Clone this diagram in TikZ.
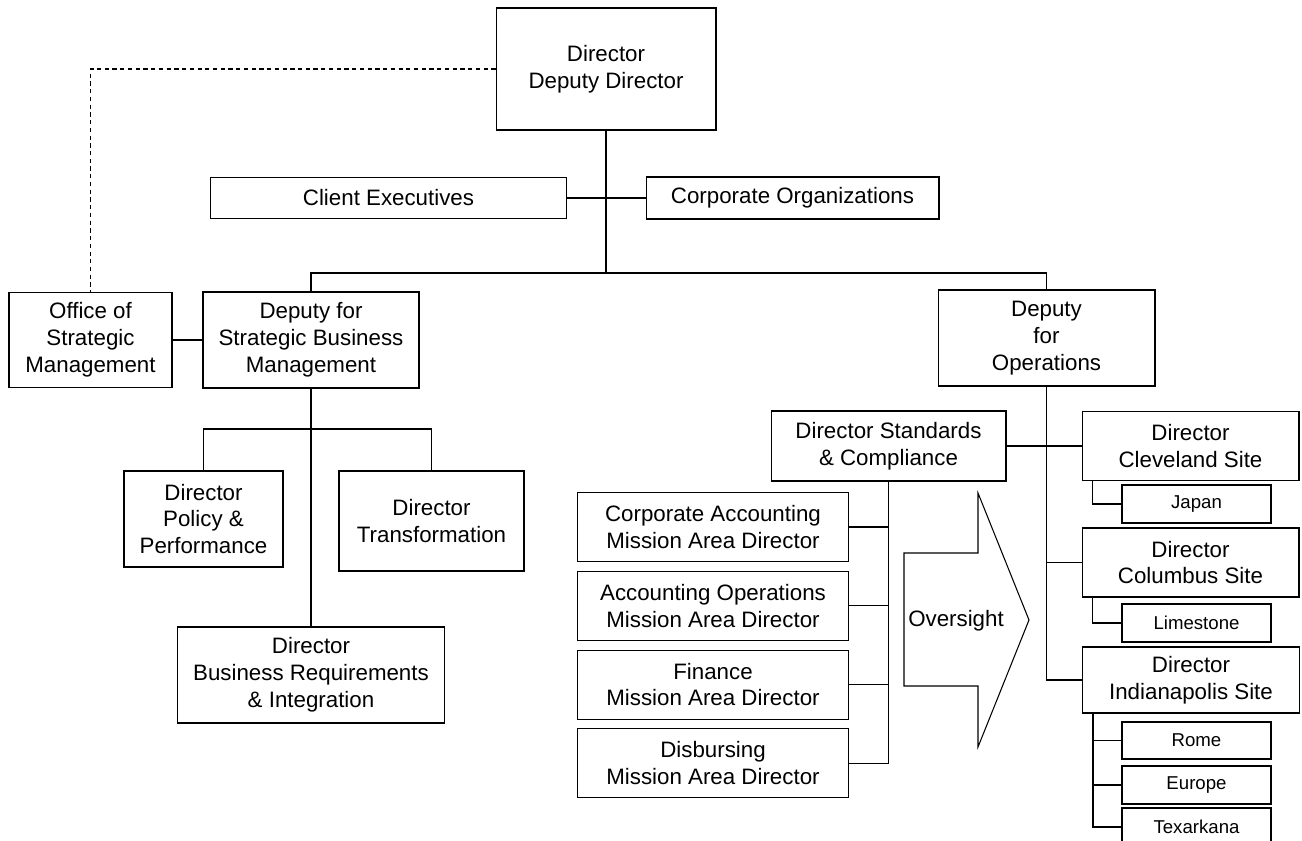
\documentclass[tikz,border=0pt]{standalone}
\usepackage{fontspec}
\setmainfont{Liberation Sans}
\usetikzlibrary{positioning,chains,scopes}
\tikzset{
    unit/.style={
        rectangle,
        draw=black, line width=0.6pt,
        inner sep=0pt,
        align=center,
        text centered,
        font=\fontsize{12.7}{15.3}\selectfont
    },
    site/.style={
        unit,
        minimum width=4.34cm,
        minimum height=1.38cm
    },
    branch/.style={
        unit,
        minimum width=2.98cm,
        minimum height=0.76cm,
        font=\fontsize{10.6}{12.8}\selectfont
    },
    line/.style={draw, line width=0.6pt},
    dotted link/.style={line, dash pattern=on 2.4pt off 2pt}
}

\begin{document}
\begin{tikzpicture}[
            x=0.02cm, y=-0.02cm,
            mission/.style={
                unit,
                minimum width=5.42cm,
                minimum height=1.38cm,
                on chain
            },
            oversight/.style={
                draw=black, line width=0.6pt,
                fill=white
            },
            node distance=0.175cm]
    \useasboundingbox (0,0) rectangle (1302,841);

    % top level
    \node[unit, minimum width=4.40cm, minimum height=2.44cm] (dir) at (606,69) {Director\\Deputy Director};
    \node[unit, minimum width=7.14cm, minimum height=0.82cm] (clex) at (388.5,198) {Client Executives};
    \node[unit, minimum width=5.86cm, minimum height=0.84cm] (corg) at (792.5,198) {Corporate Organizations};

    \node[unit, minimum width=3.26cm, minimum height=1.90cm] (osm) at (90.5,340) {Office of\\Strategic\\Management};
    \node[unit, minimum width=4.32cm, minimum height=1.92cm] (dsbm) at (311,340) {Deputy for\\Strategic Business\\Management};
    \node[unit, minimum width=4.34cm, minimum height=1.92cm] (dops) at (1046.5,338) {Deputy\\for\\Operations};

    % strategic business management
    \node[unit, minimum width=3.18cm, minimum height=1.92cm] (dpp) at (203.5,519) {Director\\Policy \&\\Performance};
    \node[unit, minimum width=3.70cm, minimum height=2.00cm] (dtr) at (431.5,521) {Director\\Transformation};
    \node[unit, minimum width=5.34cm, minimum height=1.92cm] (dbri) at (311,675) {Director\\Business Requirements\\\& Integration};

    % operations
    \node[unit, minimum width=4.70cm, minimum height=1.40cm] (dsc) at (888.5,446) {Director Standards\\\& Compliance};
    \node[site] (cle) at (1190.5,446) {Director\\Cleveland Site};
    \node[branch] (jap) at (1196.5,504) {Japan};
    \node[site] (col) at (1190.5,562.5) {Director\\Columbus Site};
    \node[branch] (lim) at (1196.5,623) {Limestone};
    \node[site, minimum height=1.32cm] (ind) at (1191,680) {Director\\Indianapolis Site};
    \node[branch, minimum height=0.74cm] (rome) at (1196.5,740.5) {Rome};
    \node[branch] (eur) at (1196.5,785) {Europe};
    \node[branch] (tex) at (1196.5,827) {Texarkana};

    { [start chain=area going below]
        \node[mission] (cam) at (713,527) {Corporate Accounting\\Mission Area Director};
        \node[mission] (aom) {Accounting Operations\\Mission Area Director};
        \node[mission] (fin) {Finance\\Mission Area Director};
        \node[mission] (dis) {Disbursing\\Mission Area Director};
    }

    \draw[oversight] (904,553) -- (978,553) -- (978,493) -- (1029,620)
        -- (978,747) -- (978,686) -- (904,686) -- cycle;
    \node[font=\fontsize{12.7}{15.3}\selectfont] (ovs) at (956,621) {Oversight};

    % connectors
    \coordinate (topbus) at (606,273);
    \coordinate (sbmbus) at (311,429);
    \path[dotted link] (dir.west) -| (osm.north);
    \path[line] (dir.south) -- (topbus);
    \path[line] (clex.east) -- (corg.west);
    \path[line] (dsbm.north) |- (dops.north |- topbus) -- (dops.north);
    \path[line] (osm.east) -- (dsbm.west);
    \path[line] (dsbm.south) -- (dbri.north);
    \path[line] (dpp.north) |- (dtr.north |- sbmbus) -- (dtr.north);

    \path[line] (dops.south) |- (ind.west);
    \path[line] (dops.south |- col.west) -- (col.west);
    \path[line] (dsc.east) -- (cle.west);
    \path[line] ([xshift=0.22cm]cle.south west) |- (jap.west);
    \path[line] ([xshift=0.22cm]col.south west) |- (lim.west);
    \path[line] ([xshift=0.22cm]ind.south west) |- (tex.west);
    \path[line] ([xshift=0.22cm]ind.south west |- rome.west) -- (rome.west);
    \path[line] ([xshift=0.22cm]ind.south west |- eur.west) -- (eur.west);

    \path[line] (dsc.south) |- (dis.east);
    \path[line] (dsc.south |- cam.east) -- (cam.east);
    \path[line] (dsc.south |- aom.east) -- (aom.east);
    \path[line] (dsc.south |- fin.east) -- (fin.east);
\end{tikzpicture}
\end{document}
